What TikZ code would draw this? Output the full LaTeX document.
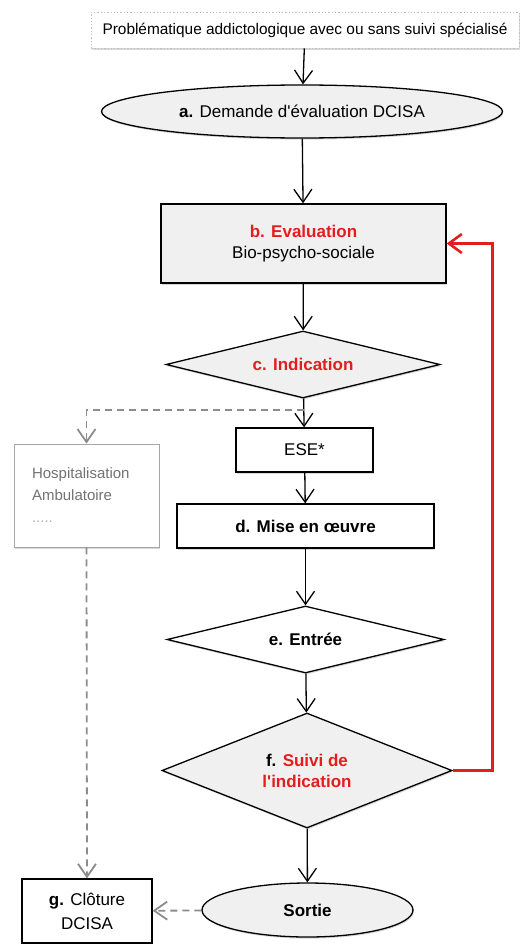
\documentclass[tikz,border=0pt]{standalone}
\usepackage{fontspec}
\setmainfont{Liberation Sans}
\usetikzlibrary{shapes.geometric,arrows.meta,shadows,calc}
\definecolor{redloop}{RGB}{226,30,30}
\definecolor{boxfill}{RGB}{240,240,240}
\definecolor{dashgray}{RGB}{140,140,140}

\begin{document}
\begin{tikzpicture}[x=1pt, y=-1pt,
    base/.style={draw, line width=1.3pt, inner sep=0pt, align=center, font=\fontsize{17}{21}\selectfont,
        drop shadow={shadow xshift=0.8pt, shadow yshift=-1.6pt, fill=black!30}},
    rectbox/.style={base, rectangle},
    ovalbox/.style={base, ellipse},
    choice/.style={base, diamond},
    flow/.style={line width=1.3pt, -{Straight Barb[length=13pt, width=18pt]}},
    optional/.style={dashgray, line width=1.8pt, dash pattern=on 7pt off 5pt, -{Straight Barb[length=13pt, width=18pt]}},
    feedback/.style={redloop, line width=2.6pt, -{Straight Barb[length=13pt, width=19pt]}}]
    \useasboundingbox (0,0) rectangle (521,944);

    \node[rectbox, draw=black!25, dotted, line width=0.8pt, fill=white, minimum width=428, minimum height=36,
        font=\fontsize{15.4}{18}\selectfont] (top) at (305,30) {Problématique addictologique avec ou sans suivi spécialisé};
    \node[ovalbox, fill=boxfill, minimum width=401, minimum height=53] (a) at (302,111.5) {\textbf{a.} Demande d\textquotesingle évaluation DCISA};
    \node[rectbox, fill=boxfill, minimum width=285, minimum height=79] (b) at (303.5,243.5) {\textcolor{redloop}{\textbf{b. Evaluation}}\\Bio-psycho-sociale};
    \node[choice, fill=boxfill, aspect=4.1, minimum width=274, minimum height=67] (c) at (303,364.5) {\textcolor{redloop}{\textbf{c. Indication}}};
    \node[rectbox, fill=white, minimum width=137, minimum height=44] (ese) at (304.5,450) {ESE*};
    \node[rectbox, fill=white, minimum width=257, minimum height=44] (d) at (305.5,526) {\textbf{d. Mise en œuvre}};
    \node[choice, fill=white, aspect=4.1, minimum width=277, minimum height=67] (e) at (305.5,639.5) {\textbf{e. Entrée}};
    \node[choice, fill=boxfill, aspect=2.5, minimum width=290, minimum height=115] (f) at (307,770.5)
        {\textbf{f.} \textcolor{redloop}{\textbf{Suivi de}}\\\textcolor{redloop}{\textbf{l\textquotesingle indication}}};
    \node[ovalbox, fill=boxfill, minimum width=211, minimum height=54] (sortie) at (307.5,910) {\textbf{Sortie}};
    \node[rectbox, fill=white, minimum width=130, minimum height=64, font=\fontsize{17}{24}\selectfont] (g) at (87,911) {\textbf{g.} Clôture\\DCISA};
    \node[rectbox, draw=black!35, line width=0.8pt, fill=white, minimum width=145, minimum height=103, text width=109, align=left,
        text=black!55, font=\fontsize{15}{22}\selectfont] (hosp) at (86.5,495.5) {Hospitalisation\\Ambulatoire\\{\color{black!30}.....}};

    \foreach \u/\v in {top/a, a/b, b/c, c/ese, ese/d, d/e, e/f, f/sortie}
        \draw[flow] (\u) -- (\v);

    \coordinate (split) at ($(c.south)!0.4!(ese.north)$);
    \draw[optional] (split) -| (hosp.north);
    \draw[optional] (hosp.south) -- (g.north);
    \draw[optional] (sortie) -- (g);
    \draw[feedback] (f.east) -- ++(40,0) |- (b.east);
\end{tikzpicture}
\end{document}
